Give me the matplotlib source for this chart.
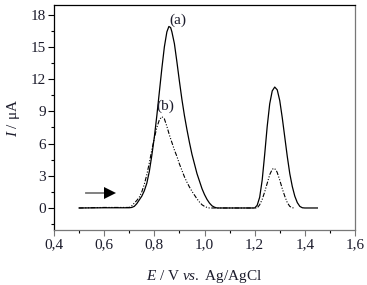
import matplotlib
matplotlib.use("Agg")
import matplotlib.pyplot as plt
from matplotlib.ticker import MultipleLocator, FuncFormatter

# Data
E_a = [0.50, 0.60, 0.70, 0.71, 0.72, 0.73, 0.74, 0.75, 0.76, 0.77, 0.78, 0.79,
       0.80, 0.81, 0.82, 0.83, 0.84, 0.85, 0.858, 0.865, 0.87, 0.88, 0.89, 0.90,
       0.91, 0.92, 0.93, 0.94, 0.95, 0.96, 0.97, 0.98, 0.99, 1.00, 1.01, 1.02,
       1.03, 1.04, 1.05, 1.20, 1.21, 1.22, 1.23, 1.24, 1.25, 1.26, 1.27, 1.28,
       1.29, 1.30, 1.31, 1.32, 1.33, 1.34, 1.35, 1.36, 1.37, 1.38, 1.39, 1.40, 1.45]
I_a = [0.0, 0.02, 0.02, 0.05, 0.15, 0.4, 0.75, 1.1, 1.6, 2.3, 3.4, 4.9,
       6.6, 8.6, 10.8, 13.0, 15.0, 16.4, 16.9, 16.8, 16.4, 15.3, 13.6, 11.8,
       10.1, 8.6, 7.3, 6.1, 5.0, 4.1, 3.2, 2.5, 1.8, 1.25, 0.8, 0.45,
       0.2, 0.07, 0.0, 0.0, 0.25, 1.0, 2.6, 5.0, 7.6, 9.7, 10.9, 11.26,
       11.0, 10.0, 8.4, 6.6, 4.8, 3.2, 2.0, 1.1, 0.5, 0.15, 0.02, 0.0, 0.0]

E_b = [0.50, 0.60, 0.70, 0.71, 0.72, 0.73, 0.74, 0.75, 0.76, 0.77, 0.78, 0.79,
       0.80, 0.81, 0.82, 0.83, 0.84, 0.85, 0.86, 0.87, 0.88, 0.89, 0.90, 0.91,
       0.92, 0.93, 0.94, 0.95, 0.96, 0.97, 0.98, 0.99, 1.00, 1.01, 1.02, 1.21,
       1.22, 1.23, 1.24, 1.25, 1.26, 1.27, 1.277, 1.285, 1.29, 1.30, 1.31, 1.32,
       1.33, 1.34, 1.35, 1.36]
I_b = [0.0, 0.05, 0.05, 0.2, 0.45, 0.7, 1.0, 1.5, 2.2, 3.1, 4.2, 5.4,
       6.5, 7.5, 8.2, 8.5, 8.3, 7.6, 6.8, 6.1, 5.4, 4.8, 4.1, 3.5,
       2.9, 2.4, 1.95, 1.55, 1.2, 0.85, 0.55, 0.3, 0.15, 0.05, 0.0, 0.0,
       0.3, 0.8, 1.5, 2.3, 3.1, 3.6, 3.7, 3.55, 3.3, 2.6, 1.8, 1.1,
       0.5, 0.15, 0.02, 0.0]

x_ticks = [0.4, 0.6, 0.8, 1.0, 1.2, 1.4, 1.6]
y_ticks = [0, 3, 6, 9, 12, 15, 18]

plt.rcParams['font.family'] = ['Liberation Serif', 'DejaVu Serif']
plt.rcParams['mathtext.fontset'] = 'custom'
plt.rcParams['mathtext.it'] = 'Liberation Serif:italic'
plt.rcParams['mathtext.rm'] = 'Liberation Serif'

fig = plt.figure(figsize=(3.67, 2.85), dpi=100)
ax = fig.add_axes([54/367, 1-230/285, (355-54)/367, (230-5)/285])

txt = '#1c1c2c'
ax.plot(E_a, I_a, color='black', lw=0.9)
ax.plot(E_b, I_b, color='black', lw=0.8, linestyle=(0, (4, 1.5, 1, 1.5, 1, 1.5)))

ax.set_xlim(0.4, 1.6)
ax.set_ylim(-2.05, 18.9)
ax.set_xticks(x_ticks)
ax.set_yticks(y_ticks)
ax.xaxis.set_minor_locator(MultipleLocator(0.1))
ax.yaxis.set_minor_locator(MultipleLocator(1.5))
ax.xaxis.set_major_formatter(FuncFormatter(lambda v, p: f"{v:.1f}".replace('.', ',')))
ax.tick_params(axis='both', which='major', direction='out', length=4, width=0.8,
               labelsize=11, labelcolor=txt, pad=2)
ax.tick_params(axis='both', which='minor', direction='out', length=2.5, width=0.8)
for s in ['left', 'top']:
    ax.spines[s].set_color('black')
for s in ['right', 'bottom']:
    ax.spines[s].set_color('#777777')
for s in ax.spines.values():
    s.set_linewidth(0.9)
ax.tick_params(axis='x', colors='#777777', labelcolor=txt)

# arrow: grey shaft, black filled head (triangle marker)
ax.plot([0.527, 0.605], [1.37, 1.37], color='#777777', lw=1.3)
ax.plot([0.625], [1.37], marker='>', markersize=9, color='black',
        markeredgewidth=0, linestyle='none')

ax.text(0.895, 17.5, '(a)', fontsize=11, color=txt, ha='center', va='center')
ax.text(0.845, 9.45, '(b)', fontsize=11, color=txt, ha='center', va='center')

ax.set_xlabel(r'$E$ / V $vs.$ Ag/AgCl', fontsize=11, color=txt, labelpad=12)
ax.set_ylabel(r'$I$ / μA', fontsize=11, color=txt, labelpad=6)

fig.savefig('out.png', dpi=100)
